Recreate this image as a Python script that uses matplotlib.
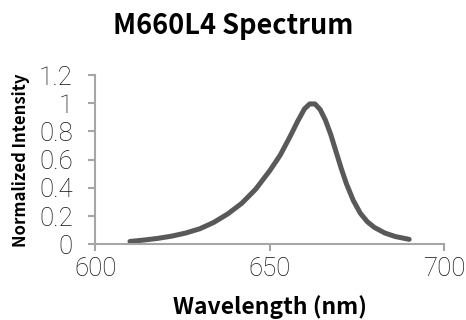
import matplotlib
matplotlib.use('Agg')
import matplotlib.pyplot as plt

plt.rcParams['font.family'] = ['Noto Sans CJK SC', 'DejaVu Sans']

# spectrum
wavelength = [610, 614, 618, 622, 626, 630, 634, 638, 642, 646, 650, 653, 656,
              658, 660, 661.5, 663, 664.5, 666, 667.5, 669, 670.5, 672, 674,
              676, 678, 680, 683, 686, 690]
intensity = [0.02, 0.03, 0.042, 0.058, 0.08, 0.11, 0.155, 0.215, 0.29, 0.39,
             0.52, 0.63, 0.77, 0.87, 0.96, 0.995, 0.995, 0.955, 0.88, 0.78,
             0.66, 0.54, 0.43, 0.31, 0.22, 0.16, 0.12, 0.08, 0.055, 0.035]

xticks = [600, 650, 700]
yticks = [0, 0.2, 0.4, 0.6, 0.8, 1, 1.2]
yticklabels = ['0', '0.2', '0.4', '0.6', '0.8', '1', '1.2']

fig = plt.figure(figsize=(4.66, 3.2), dpi=100)
ax = fig.add_axes([0.204, 0.2366, 0.749, 0.529])

ax.plot(wavelength, intensity, color='#595959', lw=3.6, solid_capstyle='round')

ax.set_xlim(600, 700)
ax.set_ylim(0, 1.2)
ax.set_xticks(xticks)
ax.set_yticks(yticks)
ax.set_yticklabels(yticklabels)

for s in ['top', 'right']:
    ax.spines[s].set_visible(False)
for s in ['left', 'bottom']:
    ax.spines[s].set_color('#a6a6a6')
    ax.spines[s].set_linewidth(1.5)
ax.tick_params(colors='#a6a6a6', width=1.5, length=5, labelsize=18.5,
               labelcolor='#111111')
ax.tick_params(axis='x', pad=4)
ax.tick_params(axis='y', pad=11)
for lab in ax.get_xticklabels() + ax.get_yticklabels():
    lab.set_family(['Roboto', 'DejaVu Sans'])
    lab.set_fontweight('light')

fig.text(0.5, 0.92, 'M660L4 Spectrum', ha='center', va='center',
         fontsize=19.5, fontweight='bold')
fig.text(0.579, 0.04, 'Wavelength (nm)', ha='center', va='center',
         fontsize=16.5, fontweight='bold')
fig.text(0.045, 0.5, 'Normalized Intensity', ha='center', va='center',
         rotation=90, fontsize=12, fontweight='bold')

plt.savefig('out.png', dpi=100)
